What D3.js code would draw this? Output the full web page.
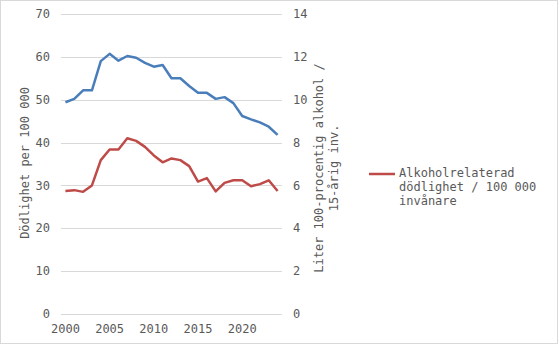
<!DOCTYPE html>
<html>
<head>
<meta charset="utf-8">
<script src="https://cdn.jsdelivr.net/npm/d3@7"></script>
<style>
  body { margin: 0; background: #fff; }
  text { font-family: "DejaVu Sans Mono", monospace; fill: #595959; }
</style>
</head>
<body>
<svg id="chart" width="558" height="344"></svg>
<script>
// years on the category axis
var years = d3.range(2000, 2025);
// alcohol related deaths per 100 000 (left axis)
var deaths = [28.7, 28.9, 28.5, 30.0, 35.9, 38.4, 38.4, 41.0, 40.4, 39.0, 37.0, 35.4, 36.3,
              35.9, 34.5, 30.9, 31.7, 28.6, 30.6, 31.2, 31.2, 29.8, 30.3, 31.2, 28.7];
// litres pure alcohol per inhabitant 15+ (right axis)
var litres = [9.88, 10.04, 10.44, 10.44, 11.8, 12.14, 11.82, 12.04, 11.96, 11.72, 11.54, 11.62, 11.0,
              11.0, 10.64, 10.32, 10.32, 10.04, 10.12, 9.84, 9.24, 9.08, 8.94, 8.74, 8.36];
var leftTicks = [0, 10, 20, 30, 40, 50, 60, 70];
var rightTicks = [0, 2, 4, 6, 8, 10, 12, 14];
var xTicks = [2000, 2005, 2010, 2015, 2020];

var svg = d3.select("#chart");

svg.append("rect")
  .attr("x", 0.5).attr("y", 0.5)
  .attr("width", 557).attr("height", 343)
  .attr("fill", "#fff").attr("stroke", "#d9d9d9");

// plot area edges (don't call it "top", window.top is taken)
var pLeft = 61, pRight = 282, pTop = 14, pBottom = 314;

var x = d3.scaleBand().domain(years).range([pLeft, pRight]);
var yL = d3.scaleLinear().domain([0, 70]).range([pBottom, pTop]);
var yR = d3.scaleLinear().domain([0, 14]).range([pBottom, pTop]);

// gridlines
svg.append("g").selectAll("line")
  .data(leftTicks)
  .join("line")
  .attr("x1", pLeft).attr("x2", pRight)
  .attr("y1", d => Math.round(yL(d)) + 0.5)
  .attr("y2", d => Math.round(yL(d)) + 0.5)
  .attr("stroke", "#d9d9d9");

// left axis labels
svg.append("g").selectAll("text")
  .data(leftTicks)
  .join("text")
  .attr("x", 50).attr("y", d => yL(d))
  .attr("dy", "0.35em")
  .attr("text-anchor", "end")
  .attr("font-size", 12)
  .text(d => d);

// right axis labels
svg.append("g").selectAll("text")
  .data(rightTicks)
  .join("text")
  .attr("x", 293).attr("y", d => yR(d))
  .attr("dy", "0.35em")
  .attr("font-size", 12)
  .text(d => d);

// x labels
svg.append("g").selectAll("text")
  .data(xTicks)
  .join("text")
  .attr("x", d => x(d) + x.bandwidth() / 2)
  .attr("y", 333)
  .attr("text-anchor", "middle")
  .attr("font-size", 12)
  .text(d => d);

// axis titles
svg.append("text")
  .attr("transform", "translate(29,163) rotate(-90)")
  .attr("text-anchor", "middle")
  .attr("font-size", 12)
  .text("Dödlighet per 100 000");

var rt = svg.append("text")
  .attr("transform", "translate(323,168) rotate(-90)")
  .attr("text-anchor", "middle")
  .attr("font-size", 12);
rt.append("tspan").attr("x", 0).attr("y", 0).text("Liter 100-procentig alkohol /");
rt.append("tspan").attr("x", 0).attr("y", 15).text("15-årig inv.");

// lines
var lineL = d3.line()
  .x((d, i) => x(years[i]) + x.bandwidth() / 2)
  .y(d => yL(d));
var lineR = d3.line()
  .x((d, i) => x(years[i]) + x.bandwidth() / 2)
  .y(d => yR(d));

svg.append("path")
  .attr("d", lineR(litres))
  .attr("fill", "none")
  .attr("stroke", "#4a7ebb")
  .attr("stroke-width", 2.5)
  .attr("stroke-linejoin", "round");

svg.append("path")
  .attr("d", lineL(deaths))
  .attr("fill", "none")
  .attr("stroke", "#be4b48")
  .attr("stroke-width", 2.5)
  .attr("stroke-linejoin", "round");

// legend
svg.append("line")
  .attr("x1", 369).attr("x2", 395)
  .attr("y1", 174).attr("y2", 174)
  .attr("stroke", "#be4b48").attr("stroke-width", 2.5);

var lg = svg.append("text").attr("font-size", 12);
["Alkoholrelaterad", "dödlighet / 100 000", "invånare"].forEach(function (s, i) {
  lg.append("tspan").attr("x", 399).attr("y", 177 + i * 14).text(s);
});
</script>
</body>
</html>
